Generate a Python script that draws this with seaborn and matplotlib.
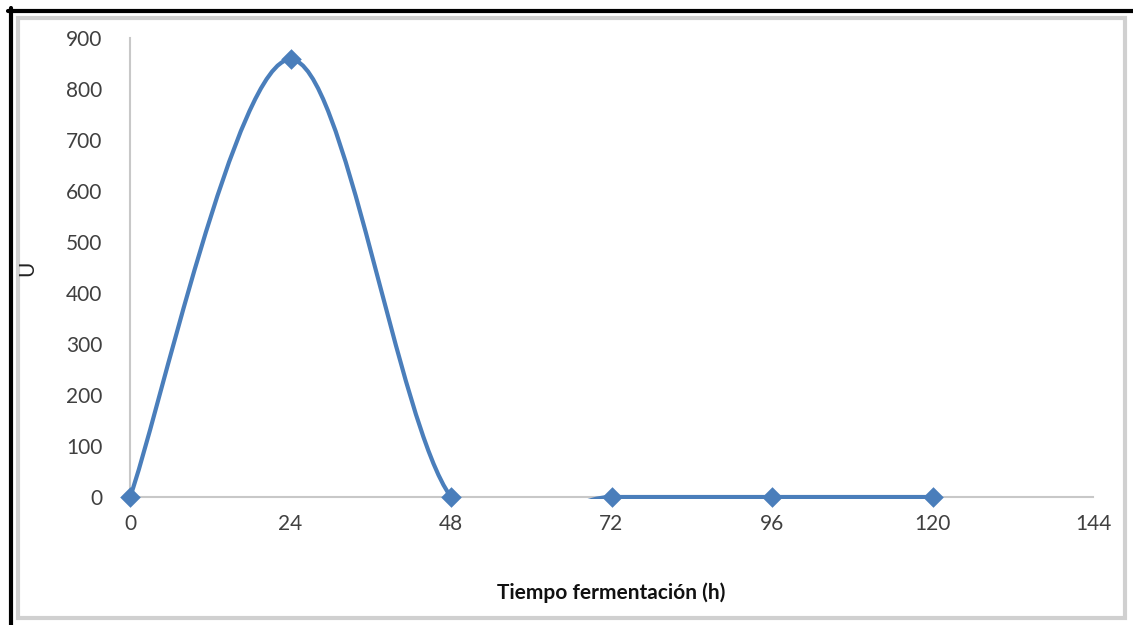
import numpy as np
import seaborn as sns
import matplotlib.pyplot as plt
from matplotlib.path import Path
from matplotlib.patches import PathPatch, Rectangle
from matplotlib.lines import Line2D

# data
tiempo = [0, 24, 48, 72, 96, 120]
actividad = [0, 858, 0, 0, 0, 0]
x_ticks = [0, 24, 48, 72, 96, 120, 144]
y_ticks = [0, 100, 200, 300, 400, 500, 600, 700, 800, 900]

blue = '#4A7EBB'

sns.set_theme(style='white')
plt.rcParams['font.family'] = ['Lato', 'DejaVu Sans']

fig = plt.figure(figsize=(11.33, 6.25), dpi=100)
ax = fig.add_axes([130 / 1133, 1 - 497 / 625, (1093 - 130) / 1133, (497 - 38) / 625])

# Excel-style smoothed line: cubic Bezier between the points (Catmull-Rom controls)
pts = np.column_stack([tiempo, actividad]).astype(float)
verts = [pts[0]]
codes = [Path.MOVETO]
n = len(pts)
for i in range(n - 1):
    p_prev = pts[max(i - 1, 0)]
    p0 = pts[i]
    p1 = pts[i + 1]
    p_next = pts[min(i + 2, n - 1)]
    c1 = p0 + (p1 - p_prev) / 6
    c2 = p1 - (p_next - p0) / 6
    verts += [c1, c2, p1]
    codes += [Path.CURVE4] * 3
curve = PathPatch(Path(verts, codes), facecolor='none', edgecolor=blue,
                  lw=3, capstyle='round', joinstyle='round', zorder=3)
ax.add_patch(curve)
# clip a little below zero so the flat part keeps its full width
clip = Rectangle((0, -4), 144, 904, transform=ax.transData, visible=False)
ax.add_patch(clip)
curve.set_clip_path(clip)

sns.scatterplot(x=tiempo, y=actividad, ax=ax, marker='D', s=110, color=blue,
                edgecolor=blue, linewidth=0, zorder=4, clip_on=False)

ax.set_xlim(0, 144)
ax.set_ylim(0, 900)
ax.set_xticks(x_ticks)
ax.set_yticks(y_ticks)
ax.tick_params(axis='both', length=0, labelsize=15, labelcolor='#404040')
ax.tick_params(axis='x', pad=12)
ax.tick_params(axis='y', pad=20)

for s in ['top', 'right']:
    ax.spines[s].set_visible(False)
for s in ['left', 'bottom']:
    ax.spines[s].set_color('#c8c8c8')
    ax.spines[s].set_linewidth(1.5)

ax.set_xlabel('')
fig.text(611 / 1133, 1 - 593 / 625, 'Tiempo fermentación (h)', fontsize=15, fontweight='bold',
         color='#111111', ha='center', va='center')
fig.text(27 / 1133, 1 - 268 / 625, 'U', fontsize=15, color='#222222', rotation=90,
         ha='center', va='center')

# picture frame: black outer lines and grey bevel
fig.add_artist(Line2D([8 / 1133, 1], [1 - 11 / 625] * 2, color='black', lw=3))
fig.add_artist(Line2D([11 / 1133] * 2, [0, 1 - 8 / 625], color='black', lw=3))
fig.add_artist(Rectangle((18 / 1133, 1 - 618 / 625), (1125 - 18) / 1133, (618 - 18) / 625,
                         fill=False, edgecolor='#d0d0d0', lw=3))

fig.savefig('out.png', dpi=100)
